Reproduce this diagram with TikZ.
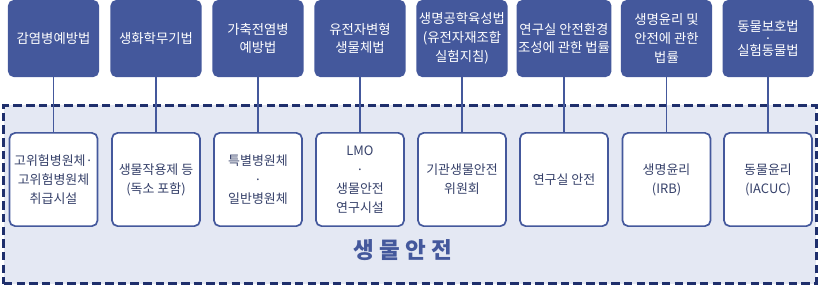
\documentclass[tikz,border=0pt]{standalone}
\usepackage{fontspec}
\setmainfont{Noto Sans CJK KR}
\usepackage{tikz}
\usetikzlibrary{positioning}

\definecolor{lawblue}{HTML}{44589C}
\definecolor{zonenavy}{HTML}{1F2F6C}
\definecolor{zonefill}{HTML}{E4E8F3}
\definecolor{areatext}{HTML}{36416A}

\begin{document}
\begin{tikzpicture}[
    x=0.025cm, y=-0.025cm,
    font=\fontsize{9.5}{13.4}\selectfont,
    law/.style={rectangle, fill=lawblue, text=white, rounded corners=4pt, minimum width=2.275cm, minimum height=1.925cm, inner sep=1pt, align=center},
    area/.style={rectangle, draw=lawblue, fill=white, line width=1.2pt, text=areatext, rounded corners=4pt, minimum width=2.2cm, minimum height=2.33cm, inner sep=1pt, align=center, font=\fontsize{9.2}{13.6}\selectfont},
    link/.style={draw=lawblue, line width=1.1pt},
    zone/.style={rectangle, draw=zonenavy, fill=zonefill, line width=2.2pt, dash pattern=on 6pt off 3pt, minimum width=20.3cm, minimum height=4.45cm, inner sep=0pt}
]
    \useasboundingbox (0,0) rectangle (820,286);

    % Biosafety zone
    \node[zone] (zone) at (410,194.5) {};
    \node[font=\fontsize{16}{18}\selectfont\bfseries, text=lawblue] (title) at (403,250) {생 물 안 전};

    % Laws
    \node[law] (law1) at (53.5,38.5) {감염병예방법};
    \node[law] (law2) at (156,38.5) {생화학무기법};
    \node[law] (law3) at (258,38.5) {가축전염병\\예방법};
    \node[law] (law4) at (360,38.5) {유전자변형\\생물체법};
    \node[law] (law5) at (462,38.5) {생명공학육성법\\(유전자재조합\\실험지침)};
    \node[law] (law6) at (564,38.5) {연구실 안전환경\\조성에 관한 법률};
    \node[law] (law7) at (666.5,38.5) {생명윤리 및\\안전에 관한\\법률};
    \node[law] (law8) at (768,38.5) {동물보호법\\[-5pt]·\\[-5pt]실험동물법};

    % Areas
    \node[area] (area1) at (53.5,179.5) {고위험병원체·\\고위험병원체\\취급시설};
    \node[area] (area2) at (156,179.5) {생물작용제 등\\(독소 포함)};
    \node[area] (area3) at (258,179.5) {특별병원체\\·\\일반병원체};
    \node[area] (area4) at (360,179.5) {LMO\\·\\생물안전\\연구시설};
    \node[area] (area5) at (462,179.5) {기관생물안전\\위원회};
    \node[area] (area6) at (564,179.5) {연구실 안전};
    \node[area] (area7) at (666.5,179.5) {생명윤리\\(IRB)};
    \node[area] (area8) at (768,179.5) {동물윤리\\(IACUC)};

    % Links
    \draw[link] (law1.south) -- (area1.north);
    \draw[link] (law2.south) -- (area2.north);
    \draw[link] (law3.south) -- (area3.north);
    \draw[link] (law4.south) -- (area4.north);
    \draw[link] (law5.south) -- (area5.north);
    \draw[link] (law6.south) -- (area6.north);
    \draw[link] (law7.south) -- (area7.north);
    \draw[link] (law8.south) -- (area8.north);
\end{tikzpicture}
\end{document}
